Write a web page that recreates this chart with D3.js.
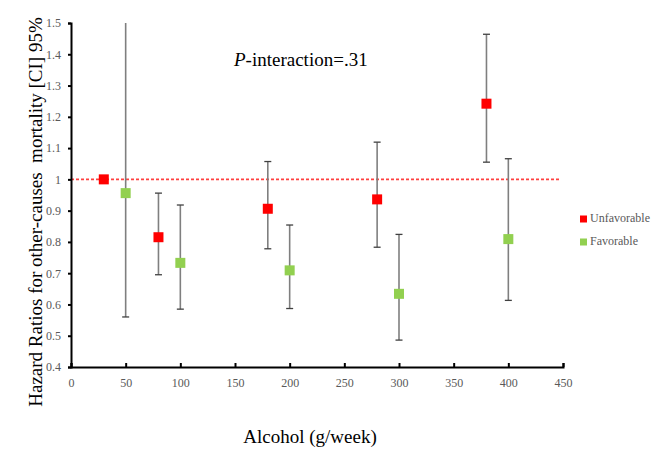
<!DOCTYPE html>
<html>
<head>
<meta charset="utf-8">
<script src="https://cdn.jsdelivr.net/npm/d3@7"></script>
<style>
  body { margin: 0; background: #fff; }
  svg text { font-family: "Liberation Serif", "Times New Roman", serif; }
</style>
</head>
<body>
<div id="chart"></div>
<script>
// values
const unfavX = [30, 80, 180, 280, 380];
const unfavHR = [1.0, 0.815, 0.906, 0.936, 1.242];
const unfavLo = [null, 0.695, 0.778, 0.783, 1.055];
const unfavHi = [null, 0.956, 1.057, 1.119, 1.464];

const favX = [50, 100, 200, 300, 400];
const favHR = [0.956, 0.733, 0.709, 0.634, 0.809];
const favLo = [0.56, 0.585, 0.587, 0.486, 0.613];
const favHi = [1.5, 0.918, 0.854, 0.824, 1.066];

const xTicks = [0, 50, 100, 150, 200, 250, 300, 350, 400, 450];
const yTicks = [0.4, 0.5, 0.6, 0.7, 0.8, 0.9, 1, 1.1, 1.2, 1.3, 1.4, 1.5];

let width = 669,
  height = 449,
  margin = ({ top: 23, right: 106, bottom: 82, left: 71 });

const svg = d3.select("#chart")
  .append("svg")
  .attr("width", width)
  .attr("height", height);

let x = d3.scaleLinear()
  .domain([0, 450])
  .range([margin.left, width - margin.right]);

let y = d3.scaleLinear()
  .domain([0.4, 1.5])
  .range([height - margin.bottom, margin.top]);

const series = [
  { name: "Unfavorable", color: "#ff0000", rows: unfavX.map((d, i) => ({ x: d, hr: unfavHR[i], lo: unfavLo[i], hi: unfavHi[i] })) },
  { name: "Favorable", color: "#92d050", rows: favX.map((d, i) => ({ x: d, hr: favHR[i], lo: favLo[i], hi: favHi[i] })) }
];

// reference line at HR = 1
svg.append("line")
  .attr("x1", x(0))
  .attr("x2", x(448))
  .attr("y1", y(1))
  .attr("y2", y(1))
  .attr("stroke", "#ff4040")
  .attr("stroke-width", 1.8)
  .attr("stroke-dasharray", "3,2");

// y axis, ticks outside
let yAxis = svg.append("g")
  .attr("transform", `translate(${margin.left},0)`)
  .call(d3.axisLeft(y)
    .tickValues(yTicks)
    .tickSize(3)
    .tickSizeOuter(3)
    .tickPadding(7)
    .tickFormat(d => d === 1 ? "1" : d3.format(".1f")(d)));

// x axis, ticks inside
let xAxis = svg.append("g")
  .attr("transform", `translate(0,${height - margin.bottom})`)
  .call(d3.axisBottom(x)
    .tickValues(xTicks)
    .tickSize(-4)
    .tickSizeOuter(-4)
    .tickPadding(11));

for (let g of [xAxis, yAxis]) {
  g.attr("font-family", null);
  g.select(".domain").attr("stroke", "#000").attr("stroke-width", 2);
  g.selectAll(".tick line").attr("stroke", "#000").attr("stroke-width", 2);
  g.selectAll(".tick text")
    .attr("fill", "#595959")
    .style("font-size", "12px");
}

// error bars and markers
for (let s of series) {
  let g = svg.append("g").attr("class", "series");
  let bars = s.rows.filter(d => d.lo !== null);

  g.selectAll(".ci")
    .data(bars)
    .join("line")
    .attr("x1", d => x(d.x))
    .attr("x2", d => x(d.x))
    .attr("y1", d => y(d.lo))
    .attr("y2", d => y(d.hi))
    .attr("stroke", "#7f7f7f")
    .attr("stroke-width", 1.6);

  // caps (none where the bar runs off the top)
  let caps = [];
  for (let d of bars) {
    caps.push({ x: d.x, v: d.lo });
    if (d.hi < 1.5) caps.push({ x: d.x, v: d.hi });
  }
  g.selectAll(".cap")
    .data(caps)
    .join("line")
    .attr("x1", d => x(d.x) - 3.5)
    .attr("x2", d => x(d.x) + 3.5)
    .attr("y1", d => y(d.v))
    .attr("y2", d => y(d.v))
    .attr("stroke", "#404040")
    .attr("stroke-width", 1.3);

  g.selectAll("rect")
    .data(s.rows)
    .join("rect")
    .attr("x", d => x(d.x) - 5)
    .attr("y", d => y(d.hr) - 5)
    .attr("width", 10)
    .attr("height", 10)
    .attr("fill", s.color);
}

// legend
let legend = svg.append("g")
  .attr("transform", "translate(580,219)");

series.forEach((s, i) => {
  legend.append("rect")
    .attr("x", 0)
    .attr("y", i * 23 - 3.5)
    .attr("width", 7)
    .attr("height", 7)
    .attr("fill", s.color);
  legend.append("text")
    .attr("x", 10)
    .attr("y", i * 23)
    .attr("dominant-baseline", "middle")
    .attr("fill", "#595959")
    .style("font-size", "12px")
    .text(s.name);
});

// annotation
svg.append("text")
  .attr("x", 234)
  .attr("y", 66)
  .attr("fill", "#000")
  .style("font-size", "19px")
  .call(t => {
    t.append("tspan").attr("font-style", "italic").text("P");
    t.append("tspan").text("-interaction=.31");
  });

// axis titles
svg.append("text")
  .attr("x", 310)
  .attr("y", 443)
  .attr("text-anchor", "middle")
  .attr("fill", "#000")
  .style("font-size", "19px")
  .text("Alcohol (g/week)");

svg.append("text")
  .attr("transform", "translate(42,212) rotate(-90)")
  .attr("text-anchor", "middle")
  .attr("fill", "#000")
  .style("font-size", "19px")
  .style("white-space", "pre")
  .text("Hazard Ratios for other-causes  mortality [CI] 95%");
</script>
</body>
</html>
